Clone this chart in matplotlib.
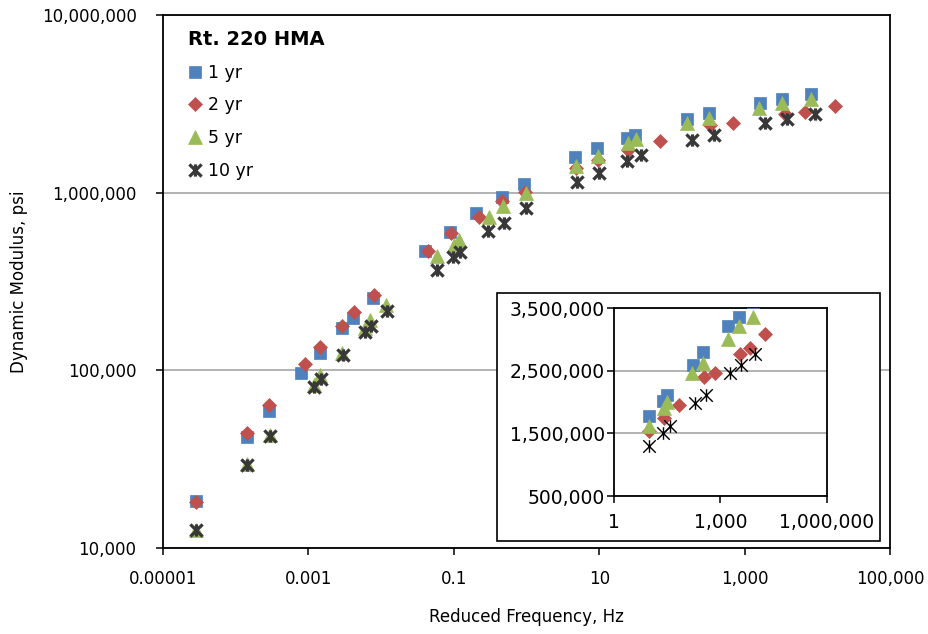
import numpy as np
import matplotlib
matplotlib.use('Agg')
import matplotlib.pyplot as plt
from matplotlib.path import Path
from matplotlib.patches import Rectangle
from matplotlib.ticker import FixedLocator, FuncFormatter, NullLocator

# ---------------- data ----------------
freq_1yr = [2.85e-5, 1.41e-4, 2.9e-4, 7.8e-4, 1.43e-3, 2.88e-3, 4.05e-3, 7.65e-3,
            0.040, 0.089, 0.203, 0.465, 0.935,
            4.65, 9.4, 24, 31.5, 163, 327, 1630, 3290, 8080]
mod_1yr = [18500, 42400, 59300, 97000, 126000, 172600, 196500, 254500,
           470000, 603000, 766000, 950000, 1120000,
           1580000, 1780000, 2020000, 2110000, 2590000, 2800000, 3210000, 3350000, 3590000]

freq_2yr = [2.85e-5, 1.44e-4, 2.9e-4, 8.85e-4, 1.46e-3, 2.88e-3, 4.3e-3, 7.95e-3,
            0.0447, 0.0916, 0.223, 0.457, 0.955,
            4.87, 9.75, 25, 68.5, 332, 683, 3580, 6730, 17500]
mod_2yr = [18200, 44600, 63900, 108600, 136000, 178000, 212000, 266000,
           472000, 591000, 727000, 902000, 1010000,
           1370000, 1530000, 1740000, 1960000, 2400000, 2470000, 2770000, 2860000, 3090000]

freq_5yr = [2.85e-5, 1.44e-4, 2.98e-4, 1.2e-3, 1.46e-3, 2.93e-3, 6.0e-3, 7.1e-3, 1.18e-2,
            0.0595, 0.101, 0.119, 0.305, 0.48, 0.975,
            4.87, 9.75, 25, 32, 160, 322, 1590, 3290, 8080]
mod_5yr = [12700, 29800, 43500, 82800, 94200, 124800, 172600, 192000, 233000,
           440000, 508000, 542000, 733000, 842000, 1000000,
           1410000, 1610000, 1900000, 2000000, 2460000, 2620000, 3010000, 3210000, 3350000]

freq_10yr = [2.85e-5, 1.44e-4, 2.98e-4, 1.2e-3, 1.49e-3, 2.98e-3, 6.0e-3, 7.2e-3, 1.2e-2,
             0.0595, 0.099, 0.122, 0.30, 0.49, 0.985,
             4.93, 9.95, 24.4, 38, 191, 378, 1910, 3790, 9250]
mod_10yr = [12700, 29400, 42700, 80300, 89100, 122000, 165000, 178000, 217000,
            367000, 433000, 465000, 611000, 678000, 817000,
            1150000, 1290000, 1510000, 1620000, 1980000, 2110000, 2470000, 2590000, 2770000]

series_labels = ['1 yr', '2 yr', '5 yr', '10 yr']
legend_title = 'Rt. 220 HMA'
x_label = 'Reduced Frequency, Hz'
y_label = 'Dynamic Modulus, psi'

x_ticks_main = [1e-5, 1e-3, 1e-1, 1e1, 1e3, 1e5]
y_ticks_main = [1e4, 1e5, 1e6, 1e7]
x_ticks_inset = [1, 1e3, 1e6]
y_ticks_inset = [5e5, 1.5e6, 2.5e6, 3.5e6]
inset_min_freq = 6.0

# ---------------- styles ----------------
plt.rcParams['font.family'] = ['DejaVu Sans']

star = Path([(-1, -1), (1, 1), (-1, 1), (1, -1), (0, -1), (0, 1)],
            [Path.MOVETO, Path.LINETO, Path.MOVETO, Path.LINETO, Path.MOVETO, Path.LINETO])

c_blue, c_red, c_green, c_dark = '#4F81BD', '#C0504D', '#9BBB59', '#383838'

main_styles = [
    dict(marker='s', ms=8.2, mfc=c_blue, mec=c_blue, mew=0.5),
    dict(marker='D', ms=7.3, mfc=c_red, mec=c_red, mew=0.5),
    dict(marker='^', ms=9.5, mfc=c_green, mec=c_green, mew=0.5),
    dict(marker=star, ms=8.8, mfc='none', mec=c_dark, mew=2.3),
]
inset_styles = [
    dict(marker='s', ms=8.2, mfc=c_blue, mec=c_blue, mew=0.5),
    dict(marker='D', ms=7.3, mfc=c_red, mec=c_red, mew=0.5),
    dict(marker='^', ms=9.5, mfc=c_green, mec=c_green, mew=0.5),
    dict(marker=star, ms=9.0, mfc='none', mec='black', mew=1.0),
]


def fmt(v, pos=None):
    if v >= 1:
        return f"{v:,.0f}"
    return np.format_float_positional(v, trim='-')


series = [(freq_1yr, mod_1yr), (freq_2yr, mod_2yr), (freq_5yr, mod_5yr), (freq_10yr, mod_10yr)]

W, H = 929, 634
fig = plt.figure(figsize=(W / 100, H / 100), dpi=100)

# main axes (pixel box: x 163..890, y 15..548)
ax = fig.add_axes([163 / W, (H - 548) / H, (890 - 163) / W, (548 - 15) / H])
ax.set_xscale('log')
ax.set_yscale('log')
ax.set_xlim(1e-5, 1e5)
ax.set_ylim(1e4, 1e7)

handles = []
for (f, m), st, lab in zip(series, main_styles, series_labels):
    h, = ax.plot(f, m, linestyle='none', label=lab, zorder=3, **st)
    handles.append(h)

ax.xaxis.set_major_locator(FixedLocator(x_ticks_main))
ax.yaxis.set_major_locator(FixedLocator(y_ticks_main))
ax.xaxis.set_minor_locator(NullLocator())
ax.yaxis.set_minor_locator(NullLocator())
ax.xaxis.set_major_formatter(FuncFormatter(fmt))
ax.yaxis.set_major_formatter(FuncFormatter(fmt))
ax.tick_params(axis='both', direction='out', length=5, width=1.1, colors='black', labelsize=12)
ax.tick_params(axis='x', pad=11)
ax.tick_params(axis='y', pad=14)
ax.yaxis.grid(True, color='#A6A6A6', linewidth=1.2)
ax.set_axisbelow(True)
for sp in ax.spines.values():
    sp.set_color('black')
    sp.set_linewidth(1.3)

ax.set_xlabel(x_label, fontsize=12)
ax.set_ylabel(y_label, fontsize=12)
ax.xaxis.set_label_coords(0.5, -0.113)
ax.yaxis.set_label_coords(-0.186, 0.5)

leg = ax.legend(handles=handles, labels=series_labels, title=legend_title,
                loc='upper left', bbox_to_anchor=(0.034, 0.972), frameon=False,
                prop={'size': 12.5}, title_fontproperties={'weight': 'bold', 'size': 14},
                alignment='left', handlelength=0.8, handletextpad=0.35,
                labelspacing=0.85, borderpad=0, borderaxespad=0, numpoints=1)

# inset outer frame (pixel box x 497..880, y 293..541)
frame = Rectangle((497 / W, (H - 541) / H), (880 - 497) / W, (541 - 293) / H,
                  transform=fig.transFigure, facecolor='white', edgecolor='black',
                  linewidth=1.2, zorder=1.5)
fig.add_artist(frame)

# inset axes (pixel box x 614..827, y 308..496)
axi = fig.add_axes([614 / W, (H - 496) / H, (827 - 614) / W, (496 - 308) / H])
axi.set_zorder(2)
axi.set_xscale('log')
axi.set_xlim(1, 1e6)
axi.set_ylim(5e5, 3.5e6)
for (f, m), st in zip(series, inset_styles):
    fa = np.asarray(f)
    ma = np.asarray(m)
    sel = fa >= inset_min_freq
    axi.plot(fa[sel], ma[sel], linestyle='none', zorder=3, **st)
axi.xaxis.set_major_locator(FixedLocator(x_ticks_inset))
axi.yaxis.set_major_locator(FixedLocator(y_ticks_inset))
axi.xaxis.set_minor_locator(NullLocator())
axi.yaxis.set_minor_locator(NullLocator())
axi.xaxis.set_major_formatter(FuncFormatter(fmt))
axi.yaxis.set_major_formatter(FuncFormatter(fmt))
axi.tick_params(axis='both', direction='out', length=5, width=1.1, colors='black', labelsize=13.5)
axi.tick_params(axis='x', pad=7)
axi.tick_params(axis='y', pad=1.5)
axi.yaxis.grid(True, color='#A6A6A6', linewidth=1.2)
axi.set_axisbelow(True)
for sp in axi.spines.values():
    sp.set_color('black')
    sp.set_linewidth(1.3)

fig.savefig('out.png', dpi=100)
